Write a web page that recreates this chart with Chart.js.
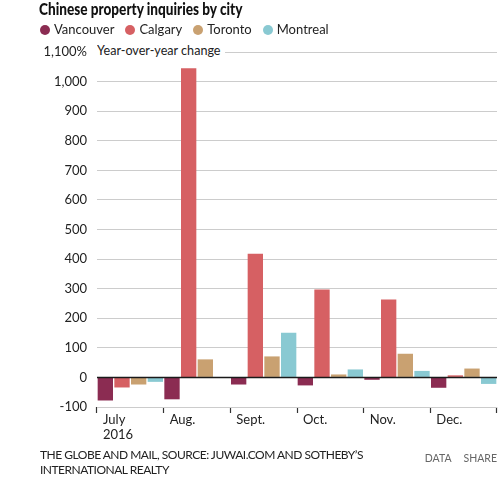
<!DOCTYPE html>
<html>
<head>
<meta charset="utf-8">
<script src="https://cdn.jsdelivr.net/npm/chart.js@4.4.0/dist/chart.umd.min.js"></script>
<style>
  html, body { margin: 0; padding: 0; background: #fff; }
  body { width: 500px; height: 477px; position: relative; overflow: hidden; font-family: Lato, "Open Sans", sans-serif; color: #222; }
  #chart-wrap { position: absolute; left: 0; top: 0; width: 500px; height: 477px; }
  .title { position: absolute; left: 39px; top: -2px; font-family: Lato, sans-serif; font-weight: 900; font-size: 17px; color: #111; white-space: nowrap; transform: scaleX(0.8); transform-origin: 0 0; }
  .legend { position: absolute; left: 40px; top: 21px; font-size: 13px; white-space: nowrap; }
  .legend span.item { margin-right: 11px; }
  .legend i { display: inline-block; width: 10px; height: 10px; border-radius: 50%; margin-right: 4px; vertical-align: -1px; }
  .axis-title { position: absolute; left: 97px; top: 43px; font-size: 12.6px; background: #fff; padding-right: 4px; white-space: nowrap; }
  .footer { position: absolute; left: 40px; top: 447px; font-size: 12px; line-height: 15px; color: #222; letter-spacing: -0.5px; }
  .links { position: absolute; right: 3px; top: 452px; font-size: 10.5px; color: #666; }
  .links span { margin-left: 12px; }
</style>
</head>
<body>
<div id="chart-wrap"><canvas id="chart"></canvas></div>
<div class="title">Chinese property inquiries by city</div>
<div class="legend" id="legend"></div>
<div class="axis-title">Year-over-year change</div>
<div class="footer">THE GLOBE AND MAIL, SOURCE: JUWAI.COM AND SOTHEBY’S<br>INTERNATIONAL REALTY</div>
<div class="links"><span>DATA</span><span>SHARE</span></div>
<script>
// --- Chart data ---
const months = [['July', '2016'], 'Aug.', 'Sept.', 'Oct.', 'Nov.', 'Dec.'];
const cities = ['Vancouver', 'Calgary', 'Toronto', 'Montreal'];
const vancouver = [-78, -74, -24, -27, -8, -35];
const calgary = [-34, 1045, 418, 297, 263, 7];
const toronto = [-24, 61, 71, 10, 80, 30];
const montreal = [-15, null, 151, 27, 22, -22];
const cityColors = ['#8b2c52', '#d66063', '#c9a171', '#89c9d2'];
const yMin = -100;
const yMax = 1100;
const yStep = 100;

// --- Legend (HTML) ---
const legendDiv = document.getElementById('legend');
cities.forEach((name, i) => {
    const item = document.createElement('span');
    item.className = 'item';
    item.innerHTML = `<i style="background:${cityColors[i]}"></i>${name}`;
    legendDiv.appendChild(item);
});

// Draws the zero line on top of the bars and the month labels after the boundary ticks
const axisExtras = {
    id: 'axisExtras',
    afterDatasetsDraw(chart) {
        const { ctx, chartArea, scales } = chart;
        const y0 = Math.round(scales.y.getPixelForValue(0)) + 0.5;
        ctx.save();
        ctx.strokeStyle = '#1a1a1a';
        ctx.lineWidth = 1.5;
        ctx.beginPath();
        ctx.moveTo(chartArea.left, y0);
        ctx.lineTo(chartArea.right, y0);
        ctx.stroke();
        ctx.restore();
    },
    afterDraw(chart) {
        const { ctx, chartArea, scales } = chart;
        const x = scales.x;
        const half = (x.getPixelForValue(1) - x.getPixelForValue(0)) / 2;
        ctx.save();
        ctx.font = '13px Lato, "Open Sans", sans-serif';
        ctx.fillStyle = '#222';
        ctx.textAlign = 'left';
        ctx.textBaseline = 'top';
        months.forEach((m, i) => {
            const lines = Array.isArray(m) ? m : [m];
            const left = x.getPixelForValue(i) - half + 6;
            lines.forEach((line, j) => ctx.fillText(line, left, chartArea.bottom + 6 + j * 15));
        });
        ctx.restore();
    }
};

const seriesValues = [vancouver, calgary, toronto, montreal];

new Chart(document.getElementById('chart'), {
    type: 'bar',
    data: {
        labels: months,
        datasets: cities.map((name, i) => ({
            label: name,
            data: seriesValues[i],
            backgroundColor: cityColors[i],
            borderWidth: 0,
            categoryPercentage: 1.0,
            barPercentage: 0.92
        }))
    },
    options: {
        responsive: true,
        maintainAspectRatio: false,
        animation: false,
        layout: { padding: { left: 40, right: 3, top: 52, bottom: 0 } },
        plugins: { legend: { display: false }, tooltip: { enabled: false } },
        scales: {
            x: {
                grid: {
                    offset: true,
                    drawOnChartArea: false,
                    drawTicks: true,
                    tickLength: 6,
                    tickWidth: 1.2,
                    tickColor: c => (c.index >= months.length ? 'rgba(0,0,0,0)' : '#333')
                },
                border: { display: false },
                ticks: { display: false },
                afterFit: s => { s.height = 70; }
            },
            y: {
                min: yMin,
                max: yMax,
                grid: { color: '#cccccc', lineWidth: 1, drawTicks: false },
                border: { display: false },
                ticks: {
                    stepSize: yStep,
                    padding: 10,
                    color: '#222',
                    font: { family: 'Lato, "Open Sans", sans-serif', size: 13 },
                    callback: v => (v === yMax ? '1,100%' : v.toLocaleString('en-US'))
                },
                afterFit: s => { s.width = 57; }
            }
        }
    },
    plugins: [axisExtras]
});
</script>
</body>
</html>
